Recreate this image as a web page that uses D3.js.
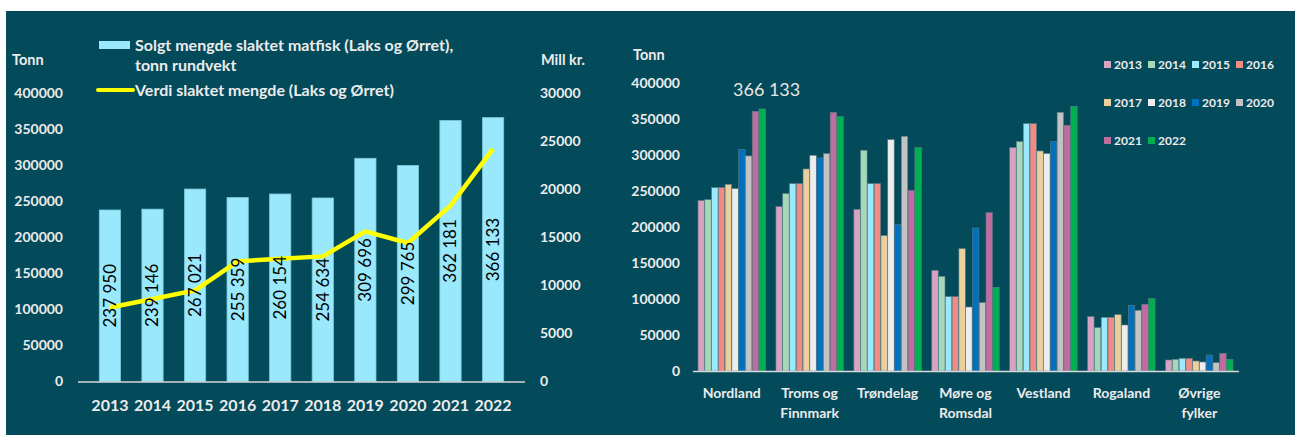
<!DOCTYPE html>
<html>
<head>
<meta charset="utf-8">
<script src="https://cdn.jsdelivr.net/npm/d3@7"></script>
<style>
  body { margin: 0; background: #ffffff; }
  svg text { font-family: Lato, "Open Sans", sans-serif; }
</style>
</head>
<body>
<script>
// left chart data
var years = ["2013","2014","2015","2016","2017","2018","2019","2020","2021","2022"];
var tonnes = [237950, 239146, 267021, 255359, 260154, 254634, 309696, 299765, 362181, 366133];
var value_mill = [7700, 8580, 9480, 12500, 12780, 13020, 15620, 14410, 18300, 24200];

// right chart data (tonn per fylke, 2013..2022)
var regions = [["Nordland"], ["Troms og", "Finnmark"], ["Trøndelag"], ["Møre og", "Romsdal"], ["Vestland"], ["Rogaland"], ["Øvrige", "fylker"]];
var nordland = [236700, 238000, 254700, 254700, 259300, 253300, 307900, 298700, 360700, 364000];
var troms = [228300, 246400, 260200, 260200, 280600, 299600, 295900, 302000, 359300, 353300];
var trondelag = [224600, 306600, 260200, 260200, 188000, 321400, 203300, 326000, 251000, 310300];
var more = [139900, 131500, 103300, 103300, 170000, 88900, 198600, 95000, 220000, 116300];
var vestland = [310300, 318600, 343600, 343600, 305600, 302000, 318600, 359300, 341300, 367700];
var rogaland = [75500, 60300, 74600, 74600, 78300, 63900, 91300, 84300, 92600, 100500];
var ovrige = [15300, 16200, 17600, 17600, 13900, 12500, 22200, 11600, 24600, 16200];
var yearColors = ["#d8a2c2","#a6d7b8","#9ae9fd","#f28b84","#ebcf9c","#ededed","#0070c0","#c3c3c3","#c06c9f","#00b050"];
var tickTonn = [0,50000,100000,150000,200000,250000,300000,350000,400000];
var tickMill = [0,5000,10000,15000,20000,25000,30000];

var W = 1295, H = 435;
var bg = "#034a5b", txt = "#ececec";

var svg = d3.select("body").append("svg")
  .attr("width", W).attr("height", H);

svg.append("rect").attr("x", 6).attr("y", 11).attr("width", W - 6).attr("height", H - 11).attr("fill", bg);

// ---------- left chart ----------
var x1 = d3.scaleBand().domain(years).range([78, 525]).padding(0.5);
var y1 = d3.scaleLinear().domain([0, 400000]).range([381.5, 93.2]);
var y1r = d3.scaleLinear().domain([0, 30000]).range([381.5, 93.2]);

var left = svg.append("g").attr("id", "left");

// y tick labels
left.selectAll(".ltick").data(tickTonn).enter().append("text")
  .attr("x", 63).attr("y", function(d) { return y1(d); })
  .attr("dy", "0.35em").attr("text-anchor", "end")
  .attr("fill", txt).style("font-size", "14px").attr("font-weight", "bold")
  .text(function(d) { return d; });

left.selectAll(".rtick").data(tickMill).enter().append("text")
  .attr("x", 540).attr("y", function(d) { return y1r(d); })
  .attr("dy", "0.35em").attr("text-anchor", "start")
  .attr("fill", txt).style("font-size", "14px").attr("font-weight", "bold")
  .text(function(d) { return d; });

left.append("text").attr("x", 12).attr("y", 65).attr("fill", txt)
  .style("font-size", "14.5px").attr("font-weight", "bold").text("Tonn");
left.append("text").attr("x", 541).attr("y", 65).attr("fill", txt)
  .style("font-size", "14.5px").attr("font-weight", "bold").text("Mill kr.");

// bars
left.selectAll(".bar").data(tonnes).enter().append("rect")
  .attr("x", function(d, i) { return x1(years[i]); })
  .attr("y", function(d) { return y1(d); })
  .attr("width", x1.bandwidth())
  .attr("height", function(d) { return y1(0) - y1(d); })
  .attr("fill", "#99e8fb").attr("stroke", "#7cc6d8").attr("stroke-width", 0.8);

// baseline
left.append("line").attr("x1", 78).attr("x2", 525).attr("y1", y1(0) + 0.5).attr("y2", y1(0) + 0.5)
  .attr("stroke", "#d9d9d9").attr("stroke-width", 1.5);

// x labels
left.selectAll(".xl").data(years).enter().append("text")
  .attr("x", function(d) { return x1(d) + x1.bandwidth() / 2; })
  .attr("y", 411).attr("text-anchor", "middle")
  .attr("fill", txt).style("font-size", "16px").attr("font-weight", "bold")
  .text(function(d) { return d; });

// line
var line = d3.line()
  .x(function(d, i) { return x1(years[i]) + x1.bandwidth() / 2; })
  .y(function(d) { return y1r(d); });
left.append("path").datum(value_mill).attr("d", line)
  .attr("fill", "none").attr("stroke", "#ffff00").attr("stroke-width", 4.5)
  .attr("stroke-linejoin", "round");

// bar value labels (rotated, centered in bar)
left.selectAll(".bl").data(tonnes).enter().append("text")
  .attr("transform", function(d, i) {
    var cx = x1(years[i]) + x1.bandwidth() / 2;
    var cy = (y1(0) + y1(d)) / 2;
    return "translate(" + cx + "," + cy + ") rotate(-90)";
  })
  .attr("text-anchor", "middle").attr("dy", "0.35em")
  .attr("fill", "#000").style("font-size", "17px")
  .text(function(d) { return d3.format(",")(d).replace(/,/g, " "); });

// legend
left.append("rect").attr("x", 99).attr("y", 41).attr("width", 31).attr("height", 8).attr("fill", "#99e8fb");
left.append("text").attr("x", 135).attr("y", 51).attr("fill", txt)
  .style("font-size", "16px").attr("font-weight", "bold")
  .text("Solgt mengde slaktet matfisk (Laks og Ørret),");
left.append("text").attr("x", 135).attr("y", 71).attr("fill", txt)
  .style("font-size", "16px").attr("font-weight", "bold").text("tonn rundvekt");
left.append("line").attr("x1", 98).attr("x2", 133).attr("y1", 90).attr("y2", 90)
  .attr("stroke", "#ffff00").attr("stroke-width", 4).attr("stroke-linecap", "round");
left.append("text").attr("x", 135).attr("y", 96).attr("fill", txt)
  .style("font-size", "16px").attr("font-weight", "bold")
  .text("Verdi slaktet mengde (Laks og Ørret)");

// ---------- right chart ----------
var series = [nordland, troms, trondelag, more, vestland, rogaland, ovrige];
var regionNames = regions.map(function(r) { return r.join(" "); });
var x2 = d3.scaleBand().domain(regionNames).range([693, 1238]).paddingInner(0.126).paddingOuter(0.06);
var xYear = d3.scaleBand().domain(years).range([0, x2.bandwidth()]).padding(0.05);
var y2 = d3.scaleLinear().domain([0, 400000]).range([371, 83]);

var right = svg.append("g").attr("id", "right");

right.selectAll(".tick2").data(tickTonn).enter().append("text")
  .attr("x", 680).attr("y", function(d) { return y2(d); })
  .attr("dy", "0.35em").attr("text-anchor", "end")
  .attr("fill", txt).style("font-size", "14px").attr("font-weight", "bold")
  .text(function(d) { return d; });

right.append("text").attr("x", 633).attr("y", 60).attr("fill", txt)
  .style("font-size", "14.5px").attr("font-weight", "bold").text("Tonn");

var groups = right.selectAll(".grp").data(series).enter().append("g")
  .attr("transform", function(d, i) { return "translate(" + x2(regionNames[i]) + ",0)"; });

groups.selectAll("rect").data(function(d) { return d; }).enter().append("rect")
  .attr("x", function(d, j) { return xYear(years[j]); })
  .attr("y", function(d) { return y2(d); })
  .attr("width", xYear.bandwidth())
  .attr("height", function(d) { return y2(0) - y2(d); })
  .attr("fill", function(d, j) { return yearColors[j]; })
  .attr("stroke", "#5a7d86").attr("stroke-width", 0.6);

right.append("line").attr("x1", 693).attr("x2", 1239).attr("y1", y2(0) + 0.5).attr("y2", y2(0) + 0.5)
  .attr("stroke", "#d9d9d9").attr("stroke-width", 1.5);

// category labels
var cl = right.selectAll(".cl").data(regions).enter().append("text")
  .attr("text-anchor", "middle").attr("fill", txt)
  .style("font-size", "14px").attr("font-weight", "bold")
  .attr("transform", function(d, i) {
    return "translate(" + (x2(regionNames[i]) + x2.bandwidth() / 2) + ",398)";
  });
cl.selectAll("tspan").data(function(d) { return d; }).enter().append("tspan")
  .attr("x", 0).attr("dy", function(d, k) { return k === 0 ? 0 : 20; })
  .text(function(d) { return d; });

// annotation
right.append("text").attr("x", 733).attr("y", 96).attr("fill", "#e6e6e6")
  .style("font-size", "18px").text("366 133");

// legend
var leg = right.selectAll(".leg").data(years).enter().append("g")
  .attr("transform", function(d, i) {
    return "translate(" + (1104 + (i % 4) * 44) + "," + (65 + Math.floor(i / 4) * 38) + ")";
  });
leg.append("rect").attr("x", 0).attr("y", -4).attr("width", 7).attr("height", 7)
  .attr("fill", function(d, i) { return yearColors[i]; });
leg.append("text").attr("x", 10).attr("dy", "0.35em").attr("fill", txt)
  .style("font-size", "12px").attr("font-weight", "bold")
  .text(function(d) { return d; });
</script>
</body>
</html>
